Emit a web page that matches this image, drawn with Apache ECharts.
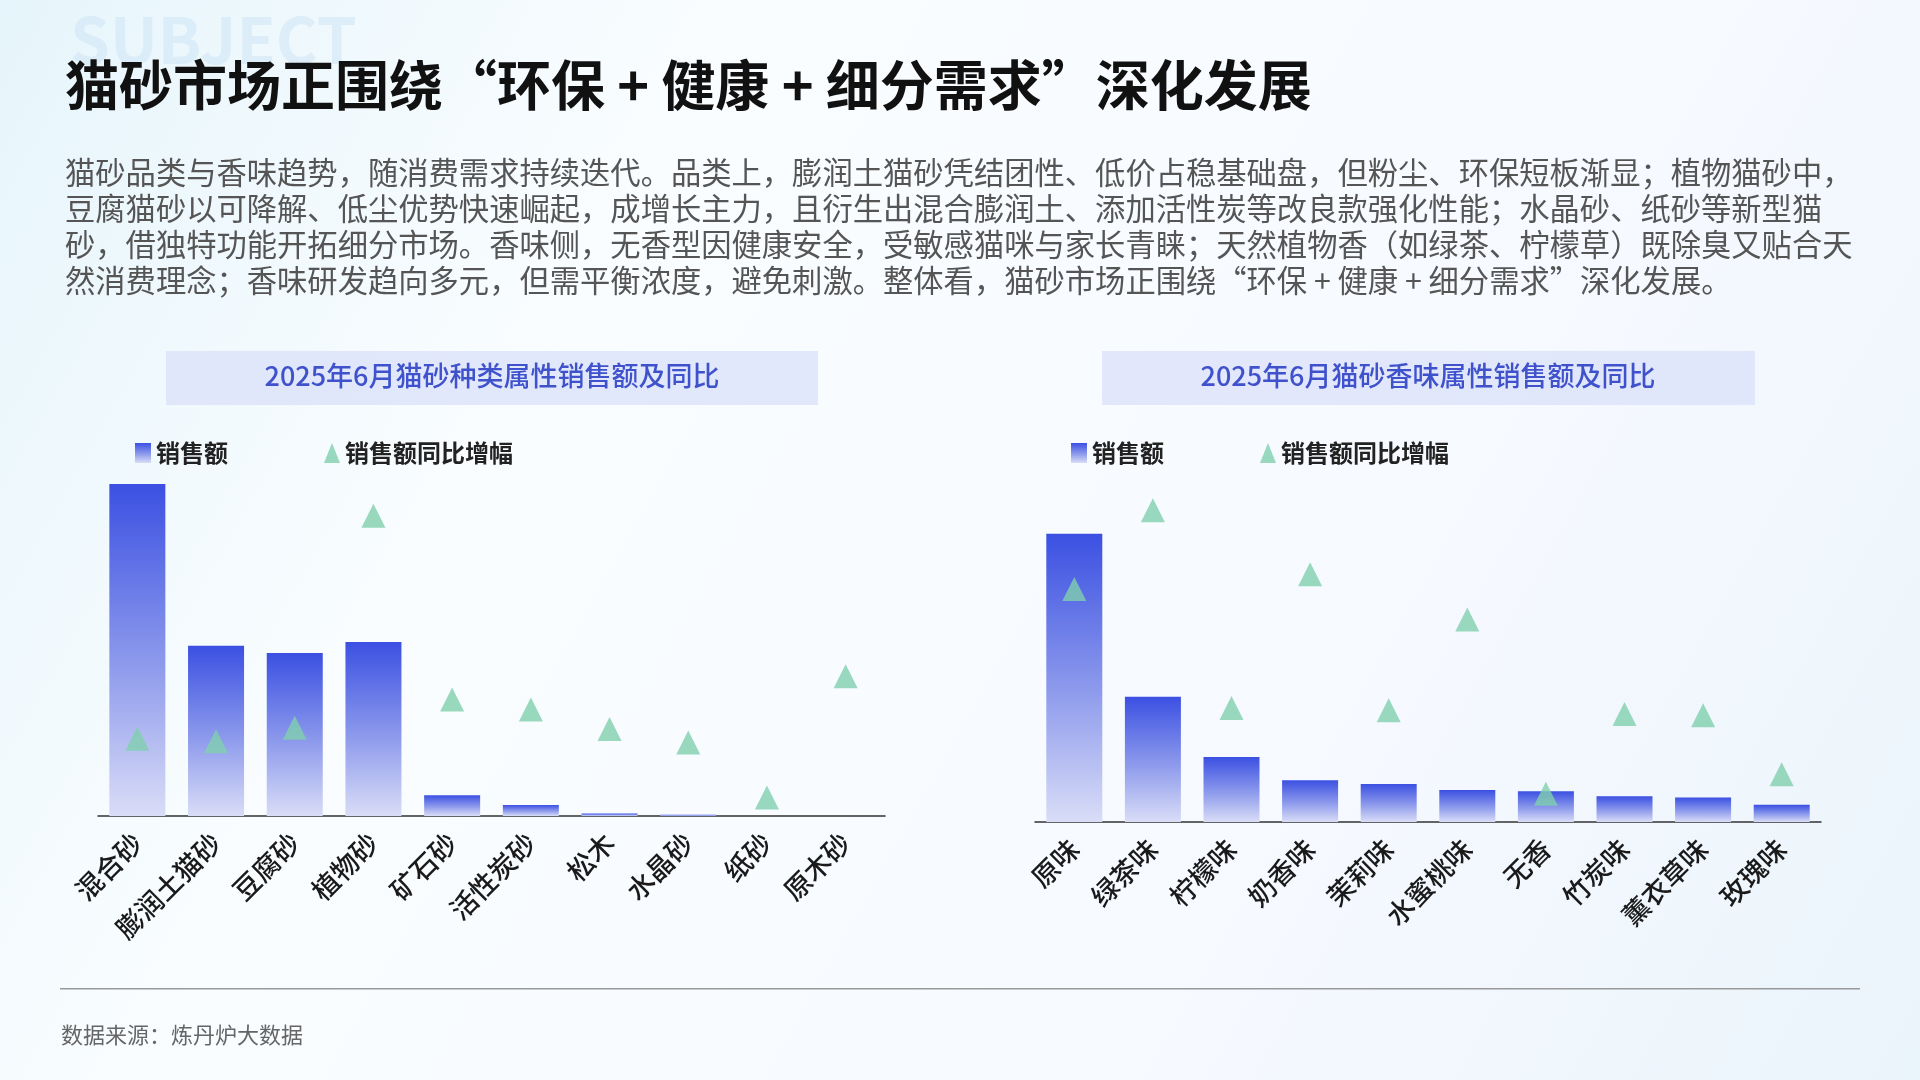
<!DOCTYPE html>
<html style="height: 100%">
<head>
    <meta charset="utf-8">
</head>
<body style="height: 100%; margin: 0">
<div id="container" style="width: 1920px; height: 1080px"></div>
<script type="text/javascript" src="https://cdn.jsdelivr.net/npm/echarts@6/dist/echarts.min.js"></script>
<script type="text/javascript">
    var dom = document.getElementById("container");
    var myChart = echarts.init(dom);

    // 种类属性
    var typeNames = ['混合砂', '膨润土猫砂', '豆腐砂', '植物砂', '矿石砂', '活性炭砂', '松木', '水晶砂', '纸砂', '原木砂'];
    var typeSales = [271, 139, 133, 142, 17, 9, 2, 1, 0, 0];
    var typeYoy = [63, 61, 72, 245, 95, 87, 71, 60, 15, 114];
    // 香味属性
    var scentNames = ['原味', '绿茶味', '柠檬味', '奶香味', '茉莉味', '水蜜桃味', '无香', '竹炭味', '薰衣草味', '玫瑰味'];
    var scentSales = [235, 102, 53, 34, 31, 26, 25, 21, 20, 14];
    var scentYoy = [190, 254, 93, 202, 91, 165, 23, 88, 87, 39];

    var font = '"Noto Sans CJK SC", "Noto Sans", sans-serif';
    var intro = '猫砂品类与香味趋势，随消费需求持续迭代。品类上，膨润土猫砂凭结团性、低价占稳基础盘，但粉尘、环保短板渐显；植物猫砂中，\n' +
        '豆腐猫砂以可降解、低尘优势快速崛起，成增长主力，且衍生出混合膨润土、添加活性炭等改良款强化性能；水晶砂、纸砂等新型猫\n' +
        '砂，借独特功能开拓细分市场。香味侧，无香型因健康安全，受敏感猫咪与家长青睐；天然植物香（如绿茶、柠檬草）既除臭又贴合天\n' +
        '然消费理念；香味研发趋向多元，但需平衡浓度，避免刺激。整体看，猫砂市场正围绕“环保 + 健康 + 细分需求”深化发展。';

    var barColor = new echarts.graphic.LinearGradient(0, 0, 0, 1, [
        {offset: 0, color: '#3b50e2'},
        {offset: 0.55, color: '#8e9bec'},
        {offset: 1, color: '#d9ddf7'}
    ]);
    var triColor = '#7fcfae';

    function xAxisOf(gi, names) {
        return {
            type: 'category', gridIndex: gi, data: names,
            axisLine: {lineStyle: {color: '#333', width: 1.5}},
            axisTick: {show: false},
            axisLabel: {interval: 0, rotate: 45, fontSize: 27, fontWeight: 500, color: '#1a1a1a', fontFamily: font, margin: 22}
        };
    }
    function yAxisOf(gi, max) {
        return {type: 'value', gridIndex: gi, min: 0, max: max, show: false};
    }

    var option = {
        backgroundColor: new echarts.graphic.LinearGradient(0, 0, 1, 1, [
            {offset: 0, color: '#e6f5fb'},
            {offset: 0.3, color: '#fafdff'},
            {offset: 0.7, color: '#f6f9ff'},
            {offset: 1, color: '#eaf4fb'}
        ]),
        textStyle: {fontFamily: font},
        graphic: [
            {type: 'text', left: 70, top: 8, style: {text: 'SUBJECT', font: 'bold 64px ' + font, fill: 'rgba(200,225,245,0.45)'}},
            {type: 'text', left: 65, top: 58, style: {text: '猫砂市场正围绕“环保 + 健康 + 细分需求”深化发展', font: 'bold 54px ' + font, fill: '#111'}},
            {type: 'text', left: 65, top: 154, style: {text: intro, font: '30.3px ' + font, fill: '#555', lineHeight: 36}},
            {type: 'rect', shape: {x: 166, y: 351, width: 652, height: 54}, style: {fill: 'rgba(220,226,250,0.8)'}},
            {type: 'text', x: 492, y: 376, style: {text: '2025年6月猫砂种类属性销售额及同比', font: '500 27px ' + font, fill: '#3f52cc', align: 'center', verticalAlign: 'middle'}},
            {type: 'rect', shape: {x: 1102, y: 351, width: 653, height: 54}, style: {fill: 'rgba(220,226,250,0.8)'}},
            {type: 'text', x: 1428, y: 376, style: {text: '2025年6月猫砂香味属性销售额及同比', font: '500 27px ' + font, fill: '#3f52cc', align: 'center', verticalAlign: 'middle'}},
            {type: 'rect', shape: {x: 60, y: 988, width: 1800, height: 1.5}, style: {fill: '#999'}},
            {type: 'text', left: 61, top: 1024, style: {text: '数据来源：炼丹炉大数据', font: '22px ' + font, fill: '#666'}}
        ],
        legend: [{
            left: 130, top: 436, itemGap: 96, itemWidth: 16, itemHeight: 20,
            textStyle: {fontSize: 24, fontWeight: 'bold', color: '#222', fontFamily: font},
            data: [{name: '销售额', icon: 'rect'}, {name: '销售额同比增幅', icon: 'triangle'}]
        }, {
            left: 1066, top: 436, itemGap: 96, itemWidth: 16, itemHeight: 20,
            textStyle: {fontSize: 24, fontWeight: 'bold', color: '#222', fontFamily: font},
            data: [{name: '销售额', icon: 'rect'}, {name: '销售额同比增幅', icon: 'triangle'}]
        }],
        grid: [
            {left: 98, width: 787, top: 484, height: 332},
            {left: 1035, width: 786, top: 503, height: 319}
        ],
        xAxis: [xAxisOf(0, typeNames), xAxisOf(1, scentNames)],
        yAxis: [yAxisOf(0, 271), yAxisOf(0, 271), yAxisOf(1, 260), yAxisOf(1, 260)],
        series: [
            {name: '销售额', type: 'bar', xAxisIndex: 0, yAxisIndex: 0, data: typeSales, barWidth: 56, itemStyle: {color: barColor}},
            {name: '销售额同比增幅', type: 'scatter', xAxisIndex: 0, yAxisIndex: 1, data: typeYoy, symbol: 'triangle', symbolSize: [24, 24], itemStyle: {color: triColor}, z: 5},
            {name: '销售额', type: 'bar', xAxisIndex: 1, yAxisIndex: 2, data: scentSales, barWidth: 56, itemStyle: {color: barColor}},
            {name: '销售额同比增幅', type: 'scatter', xAxisIndex: 1, yAxisIndex: 3, data: scentYoy, symbol: 'triangle', symbolSize: [24, 24], itemStyle: {color: triColor}, z: 5}
        ]
    };
    myChart.setOption(option, true);
</script>
</body>
</html>
